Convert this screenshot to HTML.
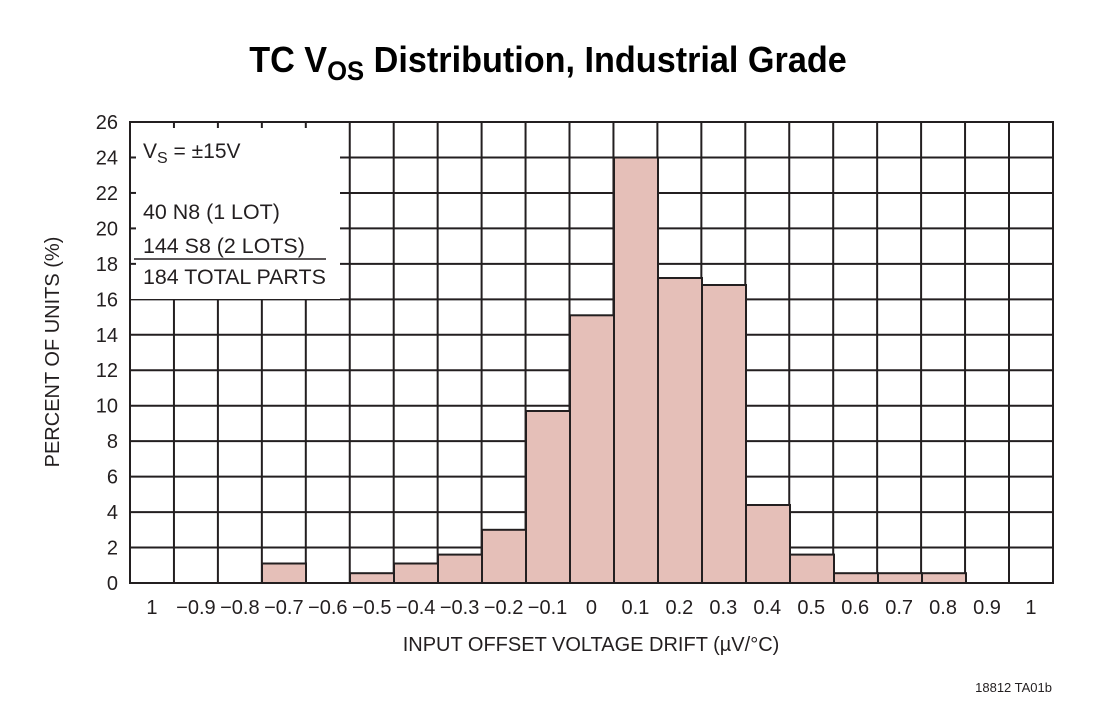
<!DOCTYPE html>
<html><head><style>body{margin:0;background:#fff}svg{display:block}</style></head><body>
<svg width="1102" height="707" viewBox="0 0 1102 707" font-family="Liberation Sans, sans-serif">
<rect width="1102" height="707" fill="#fff"/>
<text x="548" y="72" text-anchor="middle" font-size="36" font-weight="bold" transform="translate(548 0) scale(0.95 1) translate(-548 0)">TC V<tspan font-size="27" dy="8">OS</tspan><tspan dy="-8"> Distribution, Industrial Grade</tspan></text>
<g id="bars" fill="#e5bfb8" stroke="#231f20" stroke-width="2">
<rect x="262" y="563.5" width="44" height="19.5"/>
<rect x="350" y="573.2" width="44" height="9.8"/>
<rect x="394" y="563.5" width="44" height="19.5"/>
<rect x="438" y="554.6" width="44" height="28.4"/>
<rect x="482" y="529.8" width="44" height="53.2"/>
<rect x="526" y="411" width="44" height="172"/>
<rect x="570" y="315.3" width="44" height="267.7"/>
<rect x="614" y="157.5" width="44" height="425.5"/>
<rect x="658" y="278" width="44" height="305"/>
<rect x="702" y="285" width="44" height="298"/>
<rect x="746" y="505" width="44" height="78"/>
<rect x="790" y="554.6" width="44" height="28.4"/>
<rect x="834" y="573.2" width="44" height="9.8"/>
<rect x="878" y="573.2" width="44" height="9.8"/>
<rect x="922" y="573.2" width="44" height="9.8"/>
</g>
<g stroke="#231f20" stroke-width="2" id="grid"></g>
<rect x="131" y="123" width="209" height="176" fill="#fff"/>
<text x="143" y="158" font-size="21" fill="#231f20" transform="translate(143 0) scale(1.0 1) translate(-143 0)">V<tspan font-size="16" dy="5">S</tspan><tspan dy="-5"> = ±15V</tspan></text>
<g font-size="21" fill="#231f20" transform="translate(143 0) scale(1.02 1) translate(-143 0)">
<text x="143" y="219">40 N8 (1 LOT)</text>
<text x="143" y="253">144 S8 (2 LOTS)</text>
<text x="143" y="284">184 TOTAL PARTS</text>
</g>
<line x1="134" y1="259" x2="326" y2="259" stroke="#231f20" stroke-width="1.5"/>
<rect x="130" y="122" width="923" height="461" fill="none" stroke="#231f20" stroke-width="2"/>
<g id="yl" font-size="20" fill="#231f20" text-anchor="end"></g>
<g id="xl" font-size="20" fill="#231f20" text-anchor="middle"></g>
<text x="591" y="651" font-size="20" text-anchor="middle" fill="#231f20">INPUT OFFSET VOLTAGE DRIFT (µV/°C)</text>
<text transform="translate(59 352) rotate(-90)" font-size="20" text-anchor="middle" fill="#231f20">PERCENT OF UNITS (%)</text>
<text x="1052" y="692" font-size="13" text-anchor="end" fill="#231f20">18812 TA01b</text>
</svg>
<script>
var ns="http://www.w3.org/2000/svg",g=document.getElementById('grid'),yl=document.getElementById('yl'),xl=document.getElementById('xl');
function L(x1,y1,x2,y2){var l=document.createElementNS(ns,'line');l.setAttribute('x1',x1);l.setAttribute('y1',y1);l.setAttribute('x2',x2);l.setAttribute('y2',y2);g.appendChild(l);}
for(var i=1;i<21;i++){var x=130+i*43.95;L(x,122,x,583);}
for(var v=2;v<26;v+=2){var y=583-v*17.73;L(130,y,1053,y);}
for(var v=0;v<=26;v+=2){var y=583-v*17.73;var t=document.createElementNS(ns,'text');t.setAttribute('x',118);t.setAttribute('y',y+7);t.textContent=v;yl.appendChild(t);}
var labs=['1','−0.9','−0.8','−0.7','−0.6','−0.5','−0.4','−0.3','−0.2','−0.1','0','0.1','0.2','0.3','0.4','0.5','0.6','0.7','0.8','0.9','1'];
for(var i=0;i<21;i++){var t=document.createElementNS(ns,'text');t.setAttribute('x',130+43.95*(i+0.5));t.setAttribute('y',614);t.textContent=labs[i];xl.appendChild(t);}
var svg=document.querySelector('svg');svg.insertBefore(g,document.getElementById('bars'));
var b=document.createElementNS(ns,'g');b.setAttribute('stroke','#231f20');b.setAttribute('stroke-width','2');
for(var i=1;i<5;i++){var x=130+i*43.95;var l=document.createElementNS(ns,'line');l.setAttribute('x1',x);l.setAttribute('x2',x);l.setAttribute('y1',122);l.setAttribute('y2',128);b.appendChild(l);}
for(var v=18;v<26;v+=2){var y=583-v*17.73;var l=document.createElementNS(ns,'line');l.setAttribute('x1',130);l.setAttribute('x2',136);l.setAttribute('y1',y);l.setAttribute('y2',y);b.appendChild(l);}
svg.appendChild(b);
</script>
</body></html>
